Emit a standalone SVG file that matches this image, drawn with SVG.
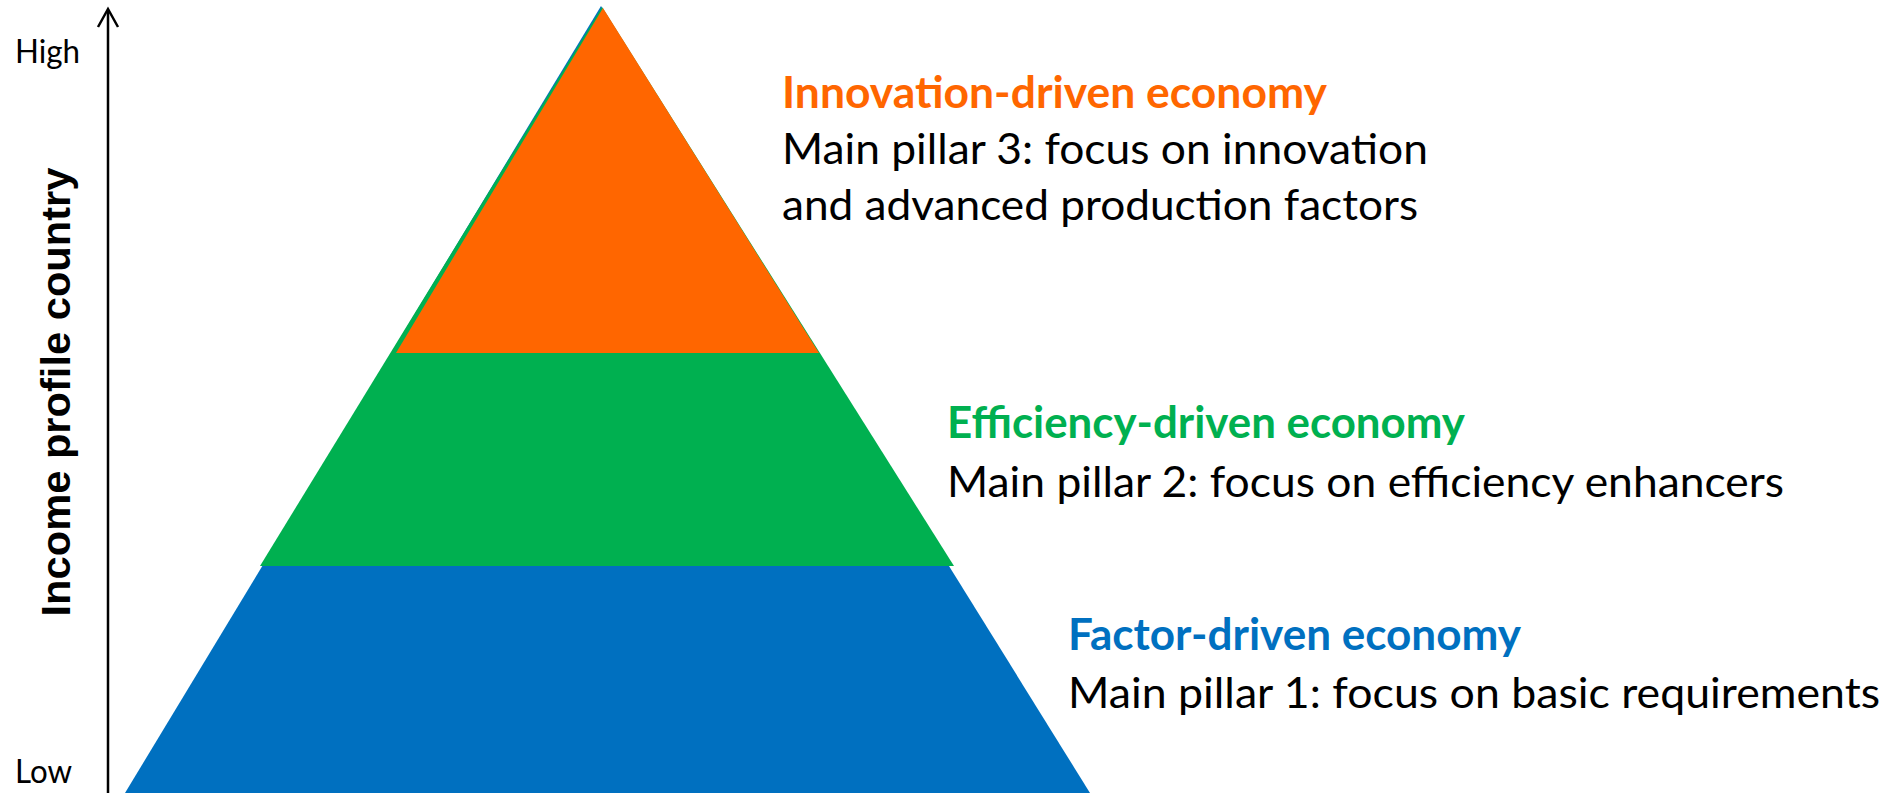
<svg xmlns="http://www.w3.org/2000/svg" width="1889" height="793" viewBox="0 0 1889 793">
  <defs>
    <style>
      .txt { font-family: "Lato", "Liberation Sans", sans-serif; font-size: 43px; fill: #000000; }
      .title { font-weight: 700; }
      .scale { font-family: "Lato", "Liberation Sans", sans-serif; font-size: 32px; fill: #000000; }
      .axis-label { font-family: "Liberation Sans", Arial, sans-serif; font-weight: 700; font-size: 41px; fill: #000000; }
      .axis { stroke: #000000; stroke-width: 2.5; fill: none; stroke-linecap: butt; }
    </style>
  </defs>
  <rect width="1889" height="793" fill="#ffffff"/>

  <!-- vertical income axis -->
  <g id="connectors">
    <line class="axis" x1="108" y1="10" x2="108" y2="793"/>
    <polyline class="axis" points="98,27 108,9 118,27"/>
  </g>

  <g id="axis-labels">
    <text class="scale" x="15" y="63" textLength="65" lengthAdjust="spacingAndGlyphs">High</text>
    <text class="scale" x="15" y="783" textLength="57" lengthAdjust="spacingAndGlyphs">Low</text>
    <text class="axis-label" transform="translate(70,392) rotate(-90)" text-anchor="middle" textLength="449" lengthAdjust="spacingAndGlyphs">Income profile country</text>
  </g>

  <!-- base tier: factor-driven -->
  <g id="tier-factor">
    <polygon points="601,6 1090,793 125,793" fill="#0070C0"/>
    <text class="txt title" x="1068" y="650" style="fill:#0070C0" textLength="453" lengthAdjust="spacingAndGlyphs">Factor-driven economy</text>
    <text class="txt" x="1068" y="708" textLength="812" lengthAdjust="spacingAndGlyphs">Main pillar 1: focus on basic requirements</text>
  </g>

  <!-- middle tier: efficiency-driven -->
  <g id="tier-efficiency">
    <polygon points="602,7 954,566 260,566" fill="#00B050"/>
    <text class="txt title" x="947" y="438" style="fill:#00B050" textLength="518" lengthAdjust="spacingAndGlyphs">Efficiency-driven economy</text>
    <text class="txt" x="947" y="497" textLength="837" lengthAdjust="spacingAndGlyphs">Main pillar 2: focus on efficiency enhancers</text>
  </g>

  <!-- top tier: innovation-driven -->
  <g id="tier-innovation">
    <polygon points="603,8 819,353 396,353" fill="#FF6600"/>
    <text class="txt title" x="782" y="108" style="fill:#FF6600" textLength="545" lengthAdjust="spacingAndGlyphs">Innovation-driven economy</text>
    <text class="txt" x="782" y="164" textLength="646" lengthAdjust="spacingAndGlyphs">Main pillar 3: focus on innovation</text>
    <text class="txt" x="782" y="220" textLength="636" lengthAdjust="spacingAndGlyphs">and advanced production factors</text>
  </g>
</svg>
